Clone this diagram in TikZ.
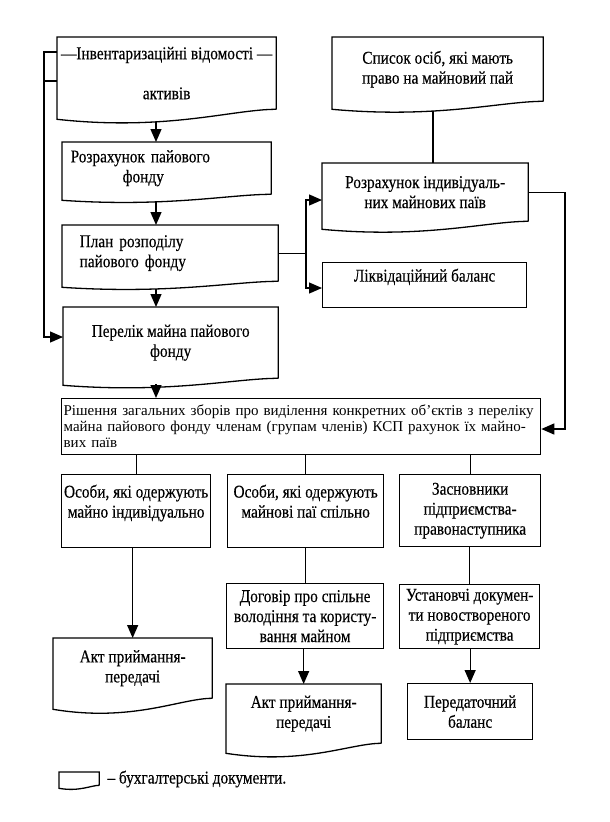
\documentclass[tikz,border=0pt]{standalone}
\usepackage{fontspec}
\setmainfont{Liberation Serif}
\newfontfamily\vuzkyj{Liberation Serif}[FakeStretch=0.85, FakeBold=0.3]
\usetikzlibrary{arrows.meta,calc}

\tikzset{blok/.style 2 args = {draw, line width=1.3pt, inner sep=2pt,
                               minimum width=#1, minimum height=#2,
                               align=center, anchor=north west,
                               font=\vuzkyj\fontsize{18}{20}\selectfont},
         dok/.style 2 args = {blok={#1}{#2}, draw=none},
         linija/.style = {line width=1.3pt},
         strilka/.style = {linija, -{Triangle[length=13pt,width=11pt]}}
        }

% document outline: box with a wavy lower edge (#2 = drop in px)
\newcommand{\dokument}[2]{%
  \draw[linija] (#1.south east) -- (#1.north east) -- (#1.north west)
    -- ($(#1.south west)+(0,#2)$)
    .. controls ($(#1.south west)!0.5!(#1.south east)+(0,2.2*#2)$)
       and ($(#1.south west)!0.8!(#1.south east)$) .. (#1.south east);}

\begin{document}
\begin{tikzpicture}[x=1pt, y=-1pt]
  \useasboundingbox (0,0) rectangle (610,822);

  % left column
  \node[dok={218pt}{71pt}] (inv) at (57,37) {—Інвентаризаційні відомості —\\[20pt]активів};
  \node[dok={208pt}{51pt}, align=left, inner xsep=8pt, text width=192pt] (rozr) at (62,142)
       {Розрахунок пайового\\\hspace*{52pt}фонду};
  \node[dok={215pt}{55pt}, align=left, inner xsep=17pt, text width=181pt] (plan) at (62,225)
       {План розподілу\\пайового фонду};
  \node[dok={214pt}{70pt}] (perel) at (63,307) {Перелік майна пайового\\фонду};

  % right column
  \node[dok={210pt}{63pt}] (spys) at (332,37) {Список осіб, які мають\\право на майновий пай};
  \node[dok={205pt}{57pt}] (indiv) at (322,163) {Розрахунок індивідуаль-\\них майнових паїв};
  \node[blok={204pt}{45pt}] (likv) at (322,262) {Ліквідаційний баланс\\~};

  % decision
  \node[blok={479pt}{56pt}, align=left, text width=475pt, font=\fontsize{15}{16}\selectfont] (rish) at (61,398)
       {Рішення загальних зборів про виділення конкретних об’єктів з переліку\\
        майна пайового фонду членам (групам членів) КСП рахунок їх майно-\\
        вих паїв};

  % lower part
  \node[blok={149pt}{73pt}] (os1) at (61,474) {Особи, які одержують\\майно індивідуально\\~};
  \node[blok={156pt}{73pt}] (os2) at (227,474) {Особи, які одержують\\майнові паї спільно\\~};
  \node[blok={141pt}{72pt}] (zasn) at (399,474) {Засновники\\підприємства-\\правонаступника};
  \node[blok={157pt}{65pt}] (dogov) at (226,583) {Договір про спільне\\володіння та користу-\\вання майном};
  \node[blok={140pt}{64pt}] (ustan) at (399,584) {Установчі докумен-\\ти  новоствореного\\підприємства};
  \node[dok={158pt}{59pt}] (akt1) at (53,638) {Акт приймання-\\передачі};
  \node[dok={154pt}{58pt}] (akt2) at (226,684) {Акт приймання-\\передачі};
  \node[blok={125pt}{56pt}] (pered) at (407,683) {Передаточний\\баланс};

  % legend
  \node[dok={39pt}{12pt}] (leg) at (59,772) {};
  \node[anchor=west, font=\vuzkyj\fontsize{18}{20}\selectfont] (legt) at (104,779) {– бухгалтерські документи.};

  \foreach \n/\d in {inv/10, rozr/6, plan/6, perel/7, spys/8,
                     indiv/8, akt1/11, akt2/10, leg/3}
    {\dokument{\n}{\d}}

  % connectors
  \coordinate (kol) at (156,0);
  \draw[strilka, shorten <=13pt] (inv.south -| kol) -- (rozr.north -| kol);
  \draw[strilka, shorten <=8pt] (rozr.south -| kol) -- (plan.north -| kol);
  \draw[strilka, shorten <=8pt] (plan.south -| kol) -- (perel.north -| kol);
  \draw[strilka, shorten <=6pt] (perel.south -| kol) -- (rish.north -| kol);

  \draw[strilka] (inv.west |- 0,52) -| (44,337) -- (perel.west |- 0,337);
  \draw[linija] (44,81) -- (inv.west |- 0,81);

  \draw[linija, shorten <=10pt] (spys.south -| 433,0) -- (indiv.north -| 433,0);

  \coordinate (vuzol) at (306,0);
  \draw[linija] (plan.east) -- (plan.east -| vuzol);
  \draw[strilka] (plan.east -| vuzol) |- (indiv.west |- 0,200);
  \draw[strilka] (plan.east -| vuzol) |- (likv.west |- 0,288);
  \draw[strilka] (indiv.east) -| (565,429) -- (rish.east |- 0,429);

  \draw[linija] (rish.south -| os1.north) -- (os1.north);
  \draw[linija] (rish.south -| os2.north) -- (os2.north);
  \draw[linija] (rish.south -| zasn.north) -- (zasn.north);
  \draw[strilka] (os1.south -| akt1.north) -- (akt1.north);
  \draw[linija] (os2.south -| dogov.north) -- (dogov.north);
  \draw[strilka] (dogov.south -| akt2.north) -- (akt2.north);
  \draw[linija] (zasn.south -| ustan.north) -- (ustan.north);
  \draw[strilka] (ustan.south -| pered.north) -- (pered.north);
\end{tikzpicture}
\end{document}
